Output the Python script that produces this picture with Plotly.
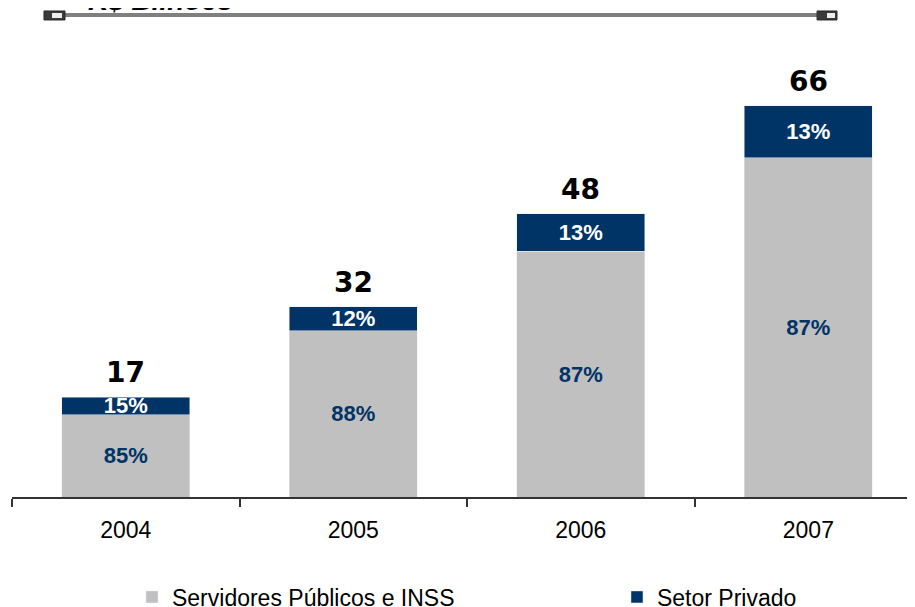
import plotly.graph_objects as go

# R$ bilhoes por ano
anos = ["2004", "2005", "2006", "2007"]
servidores = [13.9, 28.1, 41.6, 57.4]
privado = [3.0, 4.1, 6.3, 8.8]
totais = ["17", "32", "48", "66"]
pct_servidores = ["85%", "88%", "87%", "87%"]
pct_privado = ["15%", "12%", "13%", "13%"]

cinza = "#C0C0C0"
azul = "#003366"

fig = go.Figure()
fig.add_trace(go.Bar(x=anos, y=servidores, name="Servidores Públicos e INSS",
                     marker_color=cinza, width=0.563, legendwidth=440,
                     text=pct_servidores, textposition="inside",
                     insidetextanchor="middle",
                     textfont=dict(family="Liberation Sans", size=22,
                                   color=azul, weight="bold")))
fig.add_trace(go.Bar(x=anos, y=privado, name="Setor Privado",
                     marker_color=azul, width=0.563,
                     text=pct_privado, textposition="inside",
                     insidetextanchor="middle",
                     textfont=dict(family="Liberation Sans", size=22,
                                   color="white", weight="bold")))

# total acima de cada barra (x pelo indice da categoria)
tot_y = [a + b for a, b in zip(servidores, privado)]
for i, (y, t) in enumerate(zip(tot_y, totais)):
    fig.add_annotation(x=i, y=y, text="<b>%s</b>" % t, showarrow=False,
                       yanchor="bottom", yshift=6,
                       font=dict(family="DejaVu Sans", size=28, color="black"))

# titulo cortado no topo
fig.add_annotation(xref="paper", yref="paper", x=0.1625, y=1.049,
                   xanchor="center", yanchor="bottom", showarrow=False,
                   text="<b><i>R$ Bilhões</i></b>",
                   font=dict(family="Liberation Sans", size=28, color="black"))

# linha decorativa com terminais
fig.add_shape(type="line", xref="paper", yref="paper",
              x0=0.0582, x1=0.8837, y0=1.0547, y1=1.0547,
              line=dict(color="#808080", width=4))
for x0, x1 in ((0.0351, 0.0582), (0.8837, 0.9056)):
    fig.add_shape(type="rect", xref="paper", yref="paper",
                  x0=x0, x1=x1, y0=1.0438, y1=1.0635,
                  fillcolor="#3a3a3a", line=dict(color="#2a2a2a", width=1))
for x0, x1 in ((0.0439, 0.0549), (0.8946, 0.9034)):
    fig.add_shape(type="rect", xref="paper", yref="paper",
                  x0=x0, x1=x1, y0=1.0481, y1=1.0591,
                  fillcolor="#eeeeee", line=dict(width=0))

fig.update_layout(
    barmode="stack",
    width=915, height=607,
    margin=dict(l=4, r=0, t=32, b=118, autoexpand=False),
    plot_bgcolor="white", paper_bgcolor="white",
    uniformtext=dict(minsize=22, mode="show"),
    showlegend=True,
    legend=dict(orientation="h", xref="paper", yref="container",
                x=0.1317, y=0.0297, xanchor="left", yanchor="middle",
                traceorder="normal",
                font=dict(family="Liberation Sans", size=23, color="black")),
    xaxis=dict(range=[-0.5, 3.504], showline=True, linecolor="#333333",
               linewidth=1.5, ticks="outside", tickson="boundaries",
               ticklen=8, tickcolor="#333333", tickwidth=1.5,
               ticklabelstandoff=12, showgrid=False,
               tickfont=dict(family="Liberation Sans", size=23, color="black")),
    yaxis=dict(range=[0, 77.3], visible=False, showgrid=False),
)

fig.write_html("out.html")
